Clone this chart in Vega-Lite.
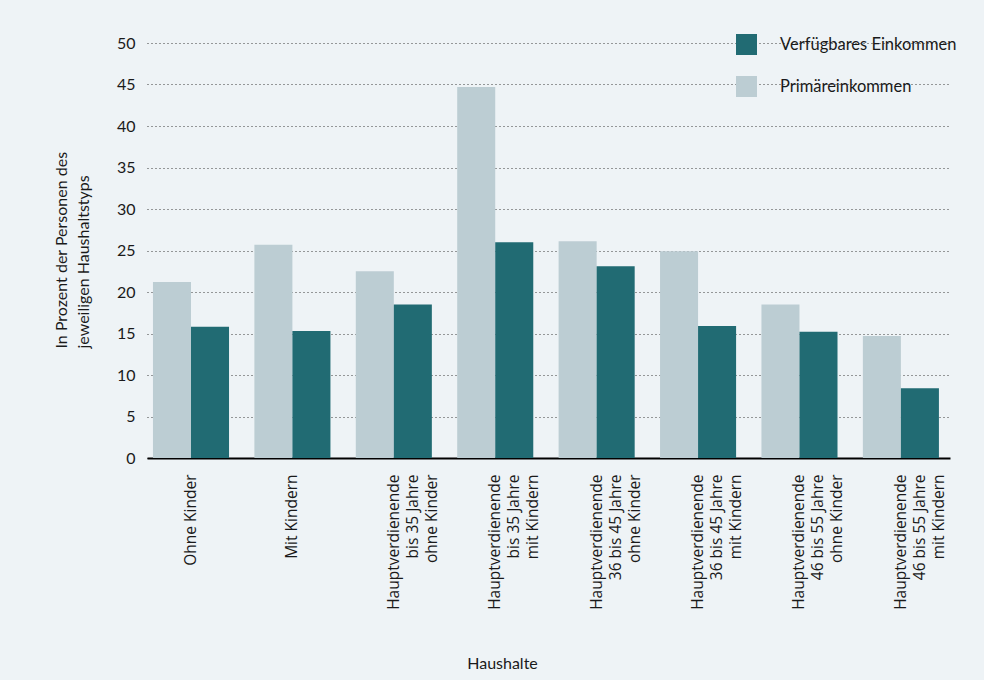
{
  "$schema": "https://vega.github.io/schema/vega-lite/v6.json",
  "autosize": {"type": "none"},
  "width": 803,
  "height": 415,
  "padding": {"left": 147, "top": 43, "right": 34, "bottom": 222},
  "background": "#eef3f6",
  "config": {
    "font": "Lato",
    "view": {"stroke": null},
    "axis": {"labelColor": "#1a1a1a", "titleColor": "#1a1a1a", "titleFontWeight": "normal"}
  },
  "data": {
    "values": [
      {"haushalt": "Ohne Kinder", "einkommen": "Primäreinkommen", "prozent": 21.2},
      {"haushalt": "Ohne Kinder", "einkommen": "Verfügbares Einkommen", "prozent": 15.8},
      {"haushalt": "Mit Kindern", "einkommen": "Primäreinkommen", "prozent": 25.7},
      {"haushalt": "Mit Kindern", "einkommen": "Verfügbares Einkommen", "prozent": 15.3},
      {"haushalt": "Hauptverdienende\nbis 35 Jahre\nohne Kinder", "einkommen": "Primäreinkommen", "prozent": 22.5},
      {"haushalt": "Hauptverdienende\nbis 35 Jahre\nohne Kinder", "einkommen": "Verfügbares Einkommen", "prozent": 18.5},
      {"haushalt": "Hauptverdienende\nbis 35 Jahre\nmit Kindern", "einkommen": "Primäreinkommen", "prozent": 44.7},
      {"haushalt": "Hauptverdienende\nbis 35 Jahre\nmit Kindern", "einkommen": "Verfügbares Einkommen", "prozent": 26.0},
      {"haushalt": "Hauptverdienende\n36 bis 45 Jahre\nohne Kinder", "einkommen": "Primäreinkommen", "prozent": 26.1},
      {"haushalt": "Hauptverdienende\n36 bis 45 Jahre\nohne Kinder", "einkommen": "Verfügbares Einkommen", "prozent": 23.1},
      {"haushalt": "Hauptverdienende\n36 bis 45 Jahre\nmit Kindern", "einkommen": "Primäreinkommen", "prozent": 24.9},
      {"haushalt": "Hauptverdienende\n36 bis 45 Jahre\nmit Kindern", "einkommen": "Verfügbares Einkommen", "prozent": 15.9},
      {"haushalt": "Hauptverdienende\n46 bis 55 Jahre\nohne Kinder", "einkommen": "Primäreinkommen", "prozent": 18.5},
      {"haushalt": "Hauptverdienende\n46 bis 55 Jahre\nohne Kinder", "einkommen": "Verfügbares Einkommen", "prozent": 15.2},
      {"haushalt": "Hauptverdienende\n46 bis 55 Jahre\nmit Kindern", "einkommen": "Primäreinkommen", "prozent": 14.7},
      {"haushalt": "Hauptverdienende\n46 bis 55 Jahre\nmit Kindern", "einkommen": "Verfügbares Einkommen", "prozent": 8.4}
    ]
  },
  "mark": {"type": "bar"},
  "encoding": {
    "x": {
      "field": "haushalt",
      "type": "nominal",
      "sort": null,
      "scale": {"paddingInner": 0.25, "paddingOuter": 0.084, "align": 0.35},
      "axis": {
        "title": "Haushalte",
        "titleFontSize": 16,
        "titleX": 355,
        "titleY": 210,
        "titleBaseline": "alphabetic",
        "labelAngle": -90,
        "labelAlign": "right",
        "labelBaseline": "middle",
        "labelExpr": "split(datum.value, '\\n')",
        "labelFont": "Open Sans",
        "labelLineHeight": 19,
        "labelFontSize": 15.5,
        "labelLimit": 0,
        "labelPadding": 16,
        "ticks": false,
        "domainColor": "#000000",
        "domainWidth": 2
      }
    },
    "xOffset": {"field": "einkommen", "type": "nominal", "sort": ["Primäreinkommen", "Verfügbares Einkommen"]},
    "y": {
      "field": "prozent",
      "type": "quantitative",
      "scale": {"domain": [0, 50], "nice": false},
      "axis": {
        "values": [0, 5, 10, 15, 20, 25, 30, 35, 40, 45, 50],
        "domain": false,
        "ticks": false,
        "labelFontSize": 16,
        "labelPadding": 12,
        "gridColor": "#3a3a3a",
        "gridDash": [1, 3],
        "gridWidth": 1,
        "title": ["In Prozent der Personen des", "jeweiligen Haushaltstyps"],
        "titleFontSize": 16,
        "titleLineHeight": 22,
        "titleAngle": -90,
        "titleAlign": "left",
        "titleBaseline": "alphabetic",
        "titleX": -81,
        "titleY": 305
      }
    },
    "color": {
      "field": "einkommen",
      "type": "nominal",
      "scale": {"domain": ["Verfügbares Einkommen", "Primäreinkommen"], "range": ["#216b73", "#bccdd3"]},
      "legend": {
        "title": null,
        "orient": "none",
        "legendX": 589,
        "legendY": -9,
        "symbolType": "square",
        "symbolSize": 441,
        "symbolStrokeWidth": 0,
        "symbolOpacity": 1,
        "labelFontSize": 16.5,
        "labelLimit": 0,
        "labelColor": "#1a1a1a",
        "labelOffset": 23,
        "rowPadding": 21
      }
    }
  }
}
